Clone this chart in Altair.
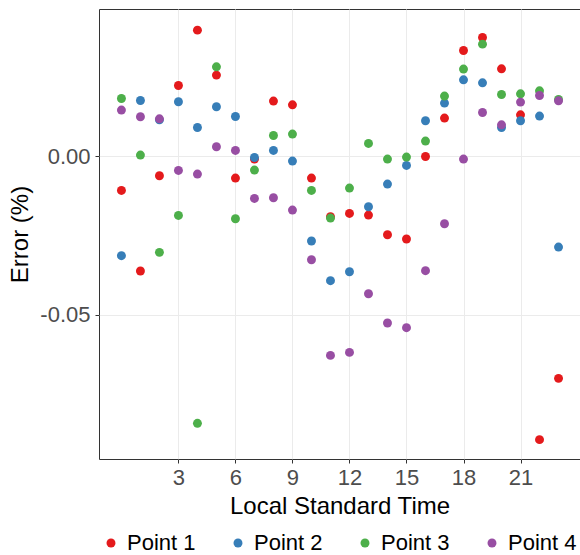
import altair as alt
import pandas as pd

hours = list(range(24))
series = ["Point 1", "Point 2", "Point 3", "Point 4"]
colors = ["#E41A1C", "#377EB8", "#4DAF4A", "#984EA3"]

p1 = [-0.01074, -0.0362, -0.0061, 0.02243, 0.03992, 0.02571, -0.00682, -0.00082,
      0.0175, 0.01633, -0.00682, -0.01905, -0.018, -0.01851, -0.02473, -0.02609,
      0.0, 0.01213, 0.03348, 0.03759, 0.0277, 0.01317, -0.08948, -0.07012]
p2 = [-0.03136, 0.01769, 0.01159, 0.01728, 0.00916, 0.0157, 0.01263, -0.00032,
      0.0019, -0.00145, -0.02672, -0.03926, -0.03642, -0.01589, -0.00872, -0.00284,
      0.01128, 0.01687, 0.02423, 0.02328, 0.00916, 0.01128, 0.01276, -0.02862]
p3 = [0.01832, 0.00044, -0.0303, -0.01864, -0.08433, 0.02833, -0.01968, -0.0043,
      0.00663, 0.00708, -0.01074, -0.01946, -0.00998, 0.00411, -0.00082, -0.00019,
      0.00486, 0.01908, 0.02761, 0.0355, 0.01958, 0.0198, 0.02075, 0.018]
p4 = [0.01466, 0.01254, 0.0119, -0.00442, -0.00556, 0.00306, 0.0019, -0.01327,
      -0.01304, -0.01693, -0.03263, -0.06286, -0.06191, -0.04337, -0.05262, -0.05411,
      -0.0361, -0.02126, -0.00082, 0.0139, 0.01001, 0.01718, 0.01927, 0.01759]

x_ticks = [3, 6, 9, 12, 15, 18, 21]
y_ticks = [-0.05, 0.0]

rows = []
for name, vals in zip(series, [p1, p2, p3, p4]):
    for h, v in zip(hours, vals):
        rows.append({"hour": h, "error": v, "series": name})
df = pd.DataFrame(rows)

FONT = "Liberation Sans"

chart = alt.Chart(df).mark_circle(size=80, opacity=1).encode(
    x=alt.X("hour:Q",
            scale=alt.Scale(domain=[-1.18, 24.13], nice=False, zero=False),
            axis=alt.Axis(values=x_ticks, title="Local Standard Time", domain=False,
                          tickSize=4, tickColor="#333333", tickWidth=1,
                          labelFontSize=22, labelColor="#4D4D4D", labelFont=FONT,
                          labelPadding=4, titleFontSize=24, titleFont=FONT,
                          titleColor="#000000", titleFontWeight="normal", titlePadding=6,
                          grid=True, gridColor="#EBEBEB", gridWidth=1)),
    y=alt.Y("error:Q",
            scale=alt.Scale(domain=[-0.0956, 0.0466], nice=False, zero=False),
            axis=alt.Axis(values=y_ticks, title="Error (%)", domain=False,
                          labelExpr="replace(format(datum.value, '.2f'), '\u2212', '-')",
                          tickSize=4, tickColor="#333333", tickWidth=1,
                          labelFontSize=22, labelColor="#4D4D4D", labelFont=FONT,
                          labelPadding=5, titleFontSize=24, titleFont=FONT,
                          titleColor="#000000", titleFontWeight="normal", titlePadding=7,
                          grid=True, gridColor="#EBEBEB", gridWidth=1)),
    color=alt.Color("series:N",
                    scale=alt.Scale(domain=series, range=colors),
                    legend=alt.Legend(orient="none", direction="horizontal", columns=4,
                                      legendX=1, legendY=523, title=None, padding=0,
                                      symbolType="circle", symbolSize=80,
                                      symbolStrokeWidth=0, symbolOpacity=1,
                                      labelFontSize=22, labelFont=FONT, labelColor="#000000",
                                      labelOffset=5, columnPadding=31)),
).properties(
    width=481, height=450,
    autosize=alt.AutoSizeParams(type="none"),
    padding={"left": 99, "top": 9, "right": 0, "bottom": 96},
).configure_view(stroke="#333333", strokeWidth=1)

chart.save("out.html", embed_options={"renderer": "svg", "actions": False})
